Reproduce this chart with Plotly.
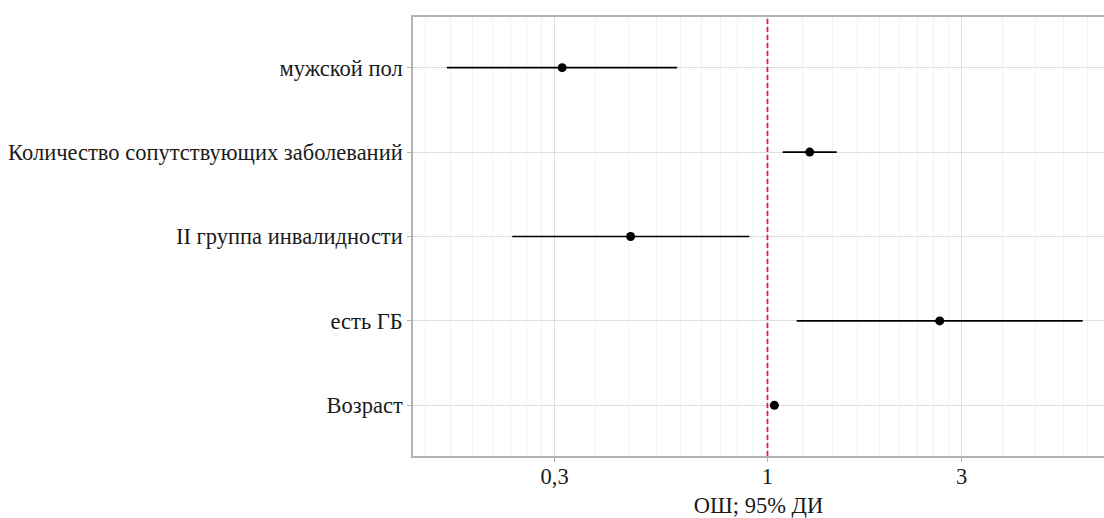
import plotly.graph_objects as go

# data (top-to-bottom order in the chart)
labels = ["мужской пол", "Количество сопутствующих заболеваний", "II группа инвалидности", "есть ГБ", "Возраст"]
odds = [0.313, 1.27, 0.461, 2.65, 1.04]
ci_low = [0.163, 1.09, 0.236, 1.18, 1.035]
ci_high = [0.600, 1.48, 0.903, 5.95, 1.045]

major_ticks = [0.3, 1, 3]
major_text = ["0,3", "1", "3"]
minor_ticks = ([0.1 + 0.2 / 9 * k for k in range(1, 9)]
               + [0.3 + 0.7 / 9 * k for k in range(1, 9)]
               + [1 + 2 / 9 * k for k in range(1, 9)]
               + [3 + 7 / 9 * k for k in range(1, 9)])

cats = labels[::-1]
o = odds[::-1]
lo = ci_low[::-1]
hi = ci_high[::-1]

fig = go.Figure()
fig.add_trace(go.Scatter(
    x=o, y=cats, mode="markers",
    marker=dict(color="black", size=9),
    error_x=dict(type="data", symmetric=False,
                 array=[h - v for h, v in zip(hi, o)],
                 arrayminus=[v - l for v, l in zip(o, lo)],
                 color="black", thickness=1.6, width=0),
    showlegend=False,
))
fig.add_vline(x=1, line=dict(color="#e8202a", width=1.8, dash="5px,3px"))

font_family = "Liberation Serif"
fs = 22.5
fig.update_layout(
    width=1104, height=518,
    margin=dict(l=413, r=0, t=17, b=62),
    plot_bgcolor="white", paper_bgcolor="white",
    font=dict(family=font_family, size=fs, color="#1a1a1a"),
    xaxis=dict(
        type="log", range=[-0.871, 0.827],
        tickmode="array", tickvals=major_ticks, ticktext=major_text,
        ticks="outside", ticklen=4, tickcolor="#b3b3b3",
        ticklabelstandoff=-5,
        showgrid=True, gridcolor="#dedede", gridwidth=1,
        minor=dict(tickmode="array", tickvals=minor_ticks, showgrid=True,
                   gridcolor="#f2f2f2", gridwidth=1, ticks=""),
        showline=True, linecolor="#b3b3b3", linewidth=1.5, mirror=True,
        zeroline=False, automargin=False,
        title=dict(text="ОШ; 95% ДИ", font=dict(size=fs, family=font_family), standoff=9),
        tickfont=dict(size=fs, family=font_family, color="#1a1a1a"),
    ),
    yaxis=dict(
        type="category", categoryorder="array", categoryarray=cats,
        range=[-0.6, 4.6], automargin=False,
        ticks="outside", ticklen=4, tickcolor="#b3b3b3",
        showgrid=True, gridcolor="#dedede", gridwidth=1,
        showline=True, linecolor="#b3b3b3", linewidth=1.5, mirror=True,
        tickfont=dict(size=fs, family=font_family, color="#1a1a1a"),
    ),
)
fig.write_html("out.html", config={"displayModeBar": False},
               post_script="document.body.style.margin='0';document.body.style.overflow='hidden';")
